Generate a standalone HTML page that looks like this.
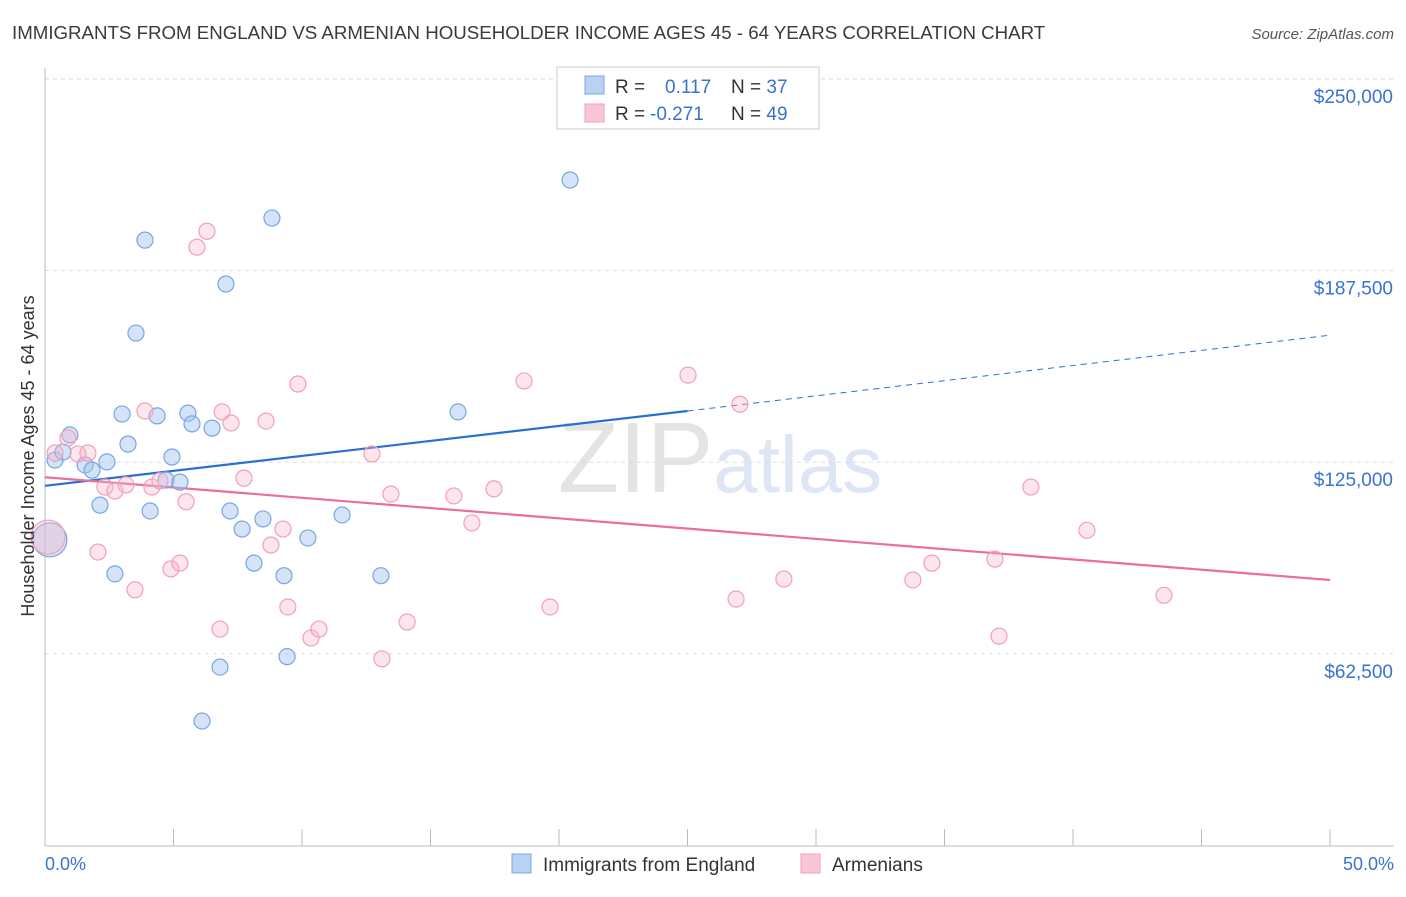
<!DOCTYPE html>
<html><head><meta charset="utf-8"><style>
body{margin:0;background:#fff;font-family:"Liberation Sans",sans-serif}
svg text{font-family:"Liberation Sans",sans-serif}
</style></head><body>
<svg id="chart" width="1406" height="892" xmlns="http://www.w3.org/2000/svg">
<text x="12" y="39" font-size="18.7" fill="#3a3a3a">IMMIGRANTS FROM ENGLAND VS ARMENIAN HOUSEHOLDER INCOME AGES 45 - 64 YEARS CORRELATION CHART</text>
<text x="1394" y="39" font-size="15" fill="#555" text-anchor="end" font-style="italic">Source: ZipAtlas.com</text>
<text x="720" y="492" font-size="100" text-anchor="middle" fill="#e4e4e4" font-family="Liberation Serif">ZIP<tspan fill="#dce6f4" font-family="Liberation Sans" font-size="80">atlas</tspan></text>
<g id="grid"></g>
<g id="axes"></g>
<g id="lines"></g>
<g id="pts"></g>
<text transform="translate(34,456) rotate(-90)" font-size="18" fill="#333" text-anchor="middle">Householder Income Ages 45 - 64 years</text>
<text x="45" y="870" font-size="18" fill="#3a72d0">0.0%</text>
<text x="1394" y="870" font-size="18" fill="#3a72d0" text-anchor="end">50.0%</text>
<g>
<rect x="557" y="67" width="262" height="62" fill="#fff" stroke="#ccc"/>
<rect x="585" y="76" width="19" height="18" fill="#b8d2f4" stroke="#7aa8e0"/>
<rect x="585" y="104" width="19" height="18" fill="#f9c6d6" stroke="#f0a0b8"/>
<text x="615" y="93" font-size="19" fill="#333">R = <tspan fill="#3a72d0" x="665">0.117</tspan><tspan x="731" fill="#333">N = </tspan><tspan fill="#3a72d0">37</tspan></text>
<text x="615" y="120" font-size="19" fill="#333">R = <tspan fill="#3a72d0" x="650">-0.271</tspan><tspan x="731" fill="#333">N = </tspan><tspan fill="#3a72d0">49</tspan></text>
</g>
<g>
<rect x="512" y="854" width="19" height="19" fill="#b8d2f4" stroke="#7aa8e0"/>
<text x="543" y="871" font-size="19" fill="#333">Immigrants from England</text>
<rect x="801" y="854" width="19" height="19" fill="#f9c6d6" stroke="#f0a0b8"/>
<text x="832" y="871" font-size="19" fill="#333">Armenians</text>
</g>
</svg>
<script>
const yTicks=[62500,125000,187500,250000];
const yTickLabels=["$62,500","$125,000","$187,500","$250,000"];
const xTicks=[0,5,10,15,20,25,30,35,40,45,50];
const blueX=[0.19,0.39,0.70,0.97,1.56,1.83,2.14,2.41,2.72,3.00,3.23,3.89,4.09,4.36,4.71,4.94,3.54,5.25,5.56,5.72,6.11,6.50,6.81,7.04,7.20,7.67,8.13,8.48,8.83,9.30,9.42,10.23,11.56,13.07,16.07,20.43];
const blueY=[99700,125700,128300,133900,124100,122400,111000,125100,88600,140700,130900,197400,109100,140100,119200,126700,167100,118500,141000,137500,40600,136100,58200,183100,109100,103200,92100,106500,204600,88000,61600,100300,107800,88000,141400,217000];
const pinkX=[0.12,0.39,0.89,1.28,1.67,2.06,2.33,2.72,3.15,3.50,3.89,4.16,4.47,4.90,5.25,5.49,5.91,6.30,6.81,6.89,7.24,7.74,8.60,8.79,9.26,9.45,9.84,10.35,10.66,12.72,13.11,13.46,14.09,15.91,16.61,17.47,18.64,19.65,25.02,26.89,27.04,28.75,33.77,34.51,36.96,37.12,38.36,40.54,43.54];
const pinkY=[100600,128000,132900,127700,128000,95700,116900,115600,117600,83400,141700,116900,118900,90200,92100,112100,195100,200300,70600,141400,137800,119800,138400,98000,103200,77800,150500,67700,70600,127700,60900,114600,72900,114000,105200,116300,151500,77800,153400,80400,143900,86900,86600,92100,93400,68300,116900,102800,81600];
const blueTrendX=[0,25,50];
const blueTrendY=[117300,141700,166400];
const pinkTrendX=[0,50];
const pinkTrendY=[120100,86600];
const NS="http://www.w3.org/2000/svg";
const xs=v=>45+v/50*1285;
const ys=v=>845.6-v/62500*191.7;
function mk(tag,attrs,parent){const e=document.createElementNS(NS,tag);for(const k in attrs)e.setAttribute(k,attrs[k]);document.getElementById(parent).appendChild(e);return e;}
yTicks.forEach((t,i)=>{
 const l=mk('line',{x1:45,x2:1394,y1:ys(t),y2:ys(t),stroke:'#ddd','stroke-dasharray':'4,4'},'grid');
 
 
 const tx=mk('text',{x:1393,y:ys(t)+24,'font-size':19,fill:'#3a72d0','text-anchor':'end'},'grid');
 tx.textContent=yTickLabels[i];
 
 
});
const tl=mk('line',{x1:45,x2:1394,y1:79,y2:79,stroke:'#ddd','stroke-dasharray':'4,4'},'grid');


const ya=mk('line',{x1:45,x2:45,y1:68,y2:846,stroke:'#bbb'},'axes');


const xa=mk('line',{x1:45,x2:1394,y1:846,y2:846,stroke:'#bbb'},'axes');


xTicks.forEach(t=>{
 const l=mk('line',{x1:xs(t),x2:xs(t),y1:829,y2:846,stroke:'#bbb'},'axes');
 
 
});
function pts(X,Y,fill,stroke,name){
 X.forEach((x,i)=>{
  const big=i===0;
  const c=mk('circle',{cx:xs(x),cy:ys(Y[i]),r:big?17:8,fill:fill,stroke:stroke,'stroke-width':1.2},'pts');
  
  
 });
}
pts(blueX,blueY,'rgba(160,196,240,0.45)','#78a6e0','england-point');
pts(pinkX,pinkY,'rgba(248,180,200,0.35)','#f0a0b8','armenians-point');
const b1=mk('line',{x1:xs(blueTrendX[0]),y1:ys(blueTrendY[0]),x2:xs(blueTrendX[1]),y2:ys(blueTrendY[1]),stroke:'#2a6fd4','stroke-width':2.2},'lines');


const b2=mk('line',{x1:xs(blueTrendX[1]),y1:ys(blueTrendY[1]),x2:xs(blueTrendX[2]),y2:ys(blueTrendY[2]),stroke:'#2a6fd4','stroke-width':1,'stroke-dasharray':'6,5'},'lines');


const p1=mk('line',{x1:xs(pinkTrendX[0]),y1:ys(pinkTrendY[0]),x2:xs(pinkTrendX[1]),y2:ys(pinkTrendY[1]),stroke:'#e8709a','stroke-width':2.2},'lines');


</script>
</body></html>
